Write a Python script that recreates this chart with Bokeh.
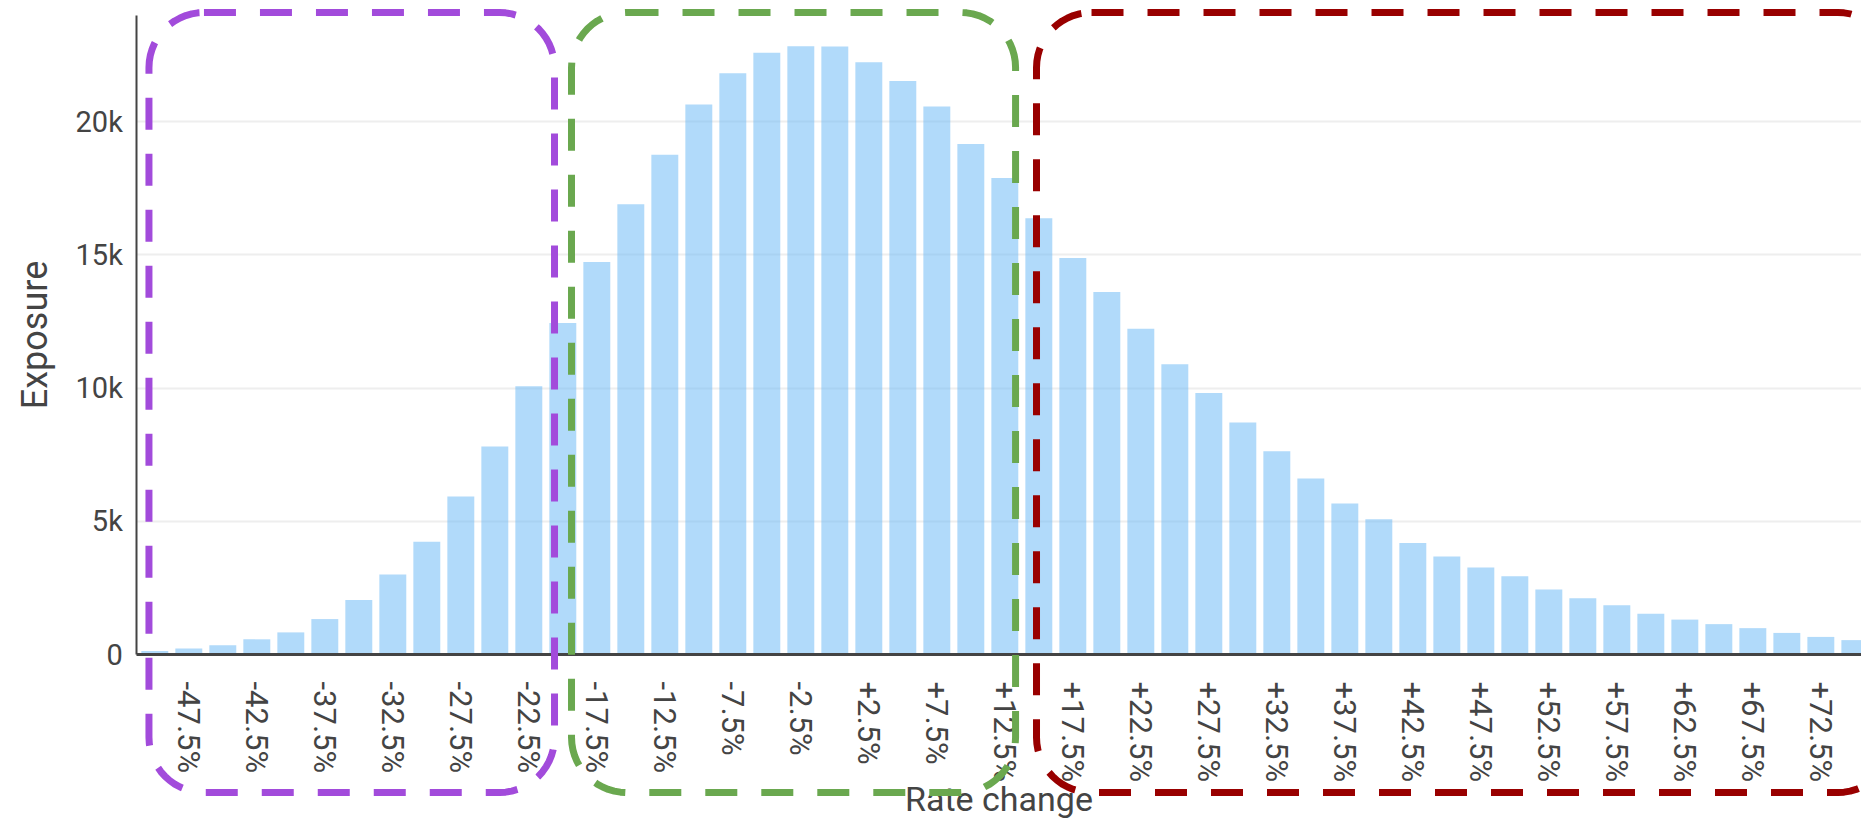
import math
from bokeh.plotting import figure
from bokeh.models import Range1d, FixedTicker, BoxAnnotation, PolyAnnotation
from bokeh.embed import file_html
from bokeh.resources import INLINE

# ---- data ----
rate_bins = [-50.0, -47.5, -45.0, -42.5, -40.0, -37.5, -35.0, -32.5, -30.0, -27.5,
             -25.0, -22.5, -20.0, -17.5, -15.0, -12.5, -10.0, -7.5, -5.0, -2.5,
             0.0, 2.5, 5.0, 7.5, 10.0, 12.5, 15.0, 17.5, 20.0, 22.5,
             25.0, 27.5, 30.0, 32.5, 35.0, 37.5, 40.0, 42.5, 45.0, 47.5,
             50.0, 52.5, 55.0, 57.5, 60.0, 62.5, 65.0, 67.5, 70.0, 72.5, 75.0]
exposure = [130, 230, 350, 570, 830, 1330, 2050, 3000, 4230, 5930,
            7810, 10070, 12440, 14730, 16900, 18760, 20650, 21820, 22590, 22830,
            22820, 22230, 21530, 20570, 19160, 17890, 16380, 14880, 13610, 12230,
            10900, 9820, 8710, 7630, 6610, 5670, 5080, 4190, 3680, 3270,
            2940, 2440, 2110, 1850, 1530, 1310, 1140, 990, 810, 660, 540]

x_tick_values = [-47.5, -42.5, -37.5, -32.5, -27.5, -22.5, -17.5, -12.5, -7.5, -2.5,
                 2.5, 7.5, 12.5, 17.5, 22.5, 27.5, 32.5, 37.5, 42.5, 47.5,
                 52.5, 57.5, 62.5, 67.5, 72.5]
x_tick_labels = ["-47.5%", "-42.5%", "-37.5%", "-32.5%", "-27.5%", "-22.5%", "-17.5%",
                 "-12.5%", "-7.5%", "-2.5%", "+2.5%", "+7.5%", "+12.5%", "+17.5%",
                 "+22.5%", "+27.5%", "+32.5%", "+37.5%", "+42.5%", "+47.5%", "+52.5%",
                 "+57.5%", "+62.5%", "+67.5%", "+72.5%"]
y_tick_values = [0, 5000, 10000, 15000, 20000]
y_tick_labels = ["0", "5k", "10k", "15k", "20k"]

# highlighted groups of rate change (left, right edges in % units)
group_left = [-50.43, -19.36, 14.83]
group_right = [-20.61, 13.29, 77.8]
group_colors = ["#a24bdb", "#6aa84f", "#990000"]

FONT = "Roboto"
TEXT = "#444444"

X_AXIS_AT = -51.32      # where the value axis sits on the rate scale
Y_TOP = 23986           # top of the value axis
W, H = 1861, 820
X_RANGE = (-61.346, 75.49)
Y_RANGE = (-6231, 24550)

p = figure(width=W, height=H,
           x_range=Range1d(*X_RANGE), y_range=Range1d(*Y_RANGE),
           output_backend="svg", toolbar_location=None,
           min_border_left=0, min_border_right=0, min_border_top=0,
           min_border_bottom=0)
p.xaxis.fixed_location = 0
p.yaxis.fixed_location = X_AXIS_AT

p.vbar(x=rate_bins, top=exposure, width=1.98,
       fill_color="#64b5f6", fill_alpha=0.5, line_color=None)

p.outline_line_color = None
p.background_fill_color = "white"
p.border_fill_color = "white"
p.xgrid.grid_line_color = None
yg = p.ygrid[0]
yg.grid_line_color = "#eeeeee"
yg.grid_line_width = 2
yg.ticker = FixedTicker(ticks=y_tick_values)
if "cross_bounds" in yg.properties():
    yg.cross_bounds = (X_AXIS_AT, 200)
else:
    p.add_layout(BoxAnnotation(right=X_AXIS_AT, fill_color="white", fill_alpha=1,
                               line_alpha=0, level="underlay"))

# x axis
xa = p.xaxis[0]
xa.bounds = (X_AXIS_AT, 76.5)
xa.ticker = FixedTicker(ticks=x_tick_values)
xa.major_label_overrides = dict(zip(x_tick_values, x_tick_labels))
xa.axis_line_color = "#444444"
xa.axis_line_width = 3
xa.major_tick_line_color = None
xa.minor_tick_line_color = None
xa.major_label_standoff = 21
xa.major_label_orientation = -math.pi / 2
xa.major_label_text_font = FONT
xa.major_label_text_font_size = "31px"
xa.major_label_text_color = TEXT
xa.axis_label = "Rate change"
xa.axis_label_text_font = FONT
xa.axis_label_text_font_size = "34px"
xa.axis_label_text_font_style = "normal"
xa.axis_label_text_color = TEXT
xa.axis_label_standoff = -6

# y axis
ya = p.yaxis[0]
ya.bounds = (0, Y_TOP)
ya.ticker = FixedTicker(ticks=y_tick_values)
ya.major_label_overrides = dict(zip(y_tick_values, y_tick_labels))
ya.axis_line_color = "#444444"
ya.axis_line_width = 2
ya.major_tick_line_color = None
ya.minor_tick_line_color = None
ya.major_label_standoff = 8
ya.major_label_text_font = FONT
ya.major_label_text_font_size = "29px"
ya.major_label_text_color = TEXT
ya.axis_label = "Exposure"
ya.axis_label_text_font = FONT
ya.axis_label_text_font_size = "36px"
ya.axis_label_text_font_style = "normal"
ya.axis_label_text_color = TEXT
ya.axis_label_standoff = 16

# dashed rounded group boxes (may run past the chart's right edge)
BOX_TOP, BOX_BOTTOM = 24099, -5180
RADIUS_PX = 55
rx = RADIUS_PX * (X_RANGE[1] - X_RANGE[0]) / W
ry = RADIUS_PX * (Y_RANGE[1] - Y_RANGE[0]) / H


def rounded_rect(l, r, t, b, n=14):
    xs, ys = [], []
    corners = [((r - rx, t - ry), 90, 0), ((r - rx, b + ry), 0, -90),
               ((l + rx, b + ry), -90, -180), ((l + rx, t - ry), 180, 90)]
    xs.append(l + rx)
    ys.append(t)
    for (cx, cy), a0, a1 in corners:
        for k in range(n + 1):
            a = math.radians(a0 + (a1 - a0) * k / n)
            xs.append(cx + rx * math.cos(a))
            ys.append(cy + ry * math.sin(a))
    return xs, ys


for l, r, c in zip(group_left, group_right, group_colors):
    bx, by = rounded_rect(l, r, BOX_TOP, BOX_BOTTOM)
    p.add_layout(PolyAnnotation(xs=bx, ys=by, fill_alpha=0, line_color=c,
                                line_alpha=1, line_width=7, line_dash="32 24"))

open("out.html", "w").write(file_html(p, INLINE))
